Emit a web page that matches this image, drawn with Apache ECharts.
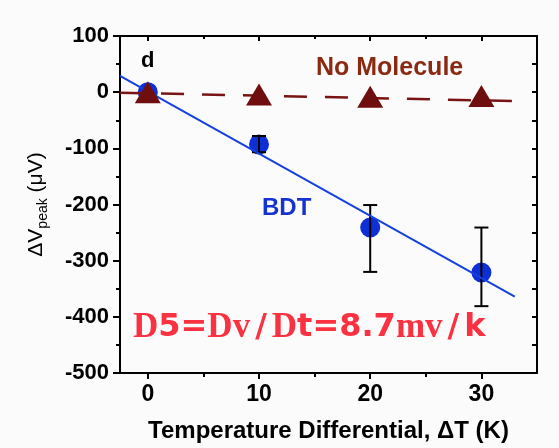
<!DOCTYPE html>
<html>
<head>
<meta charset="utf-8">
<script src="https://cdn.jsdelivr.net/npm/echarts@6/dist/echarts.min.js"></script>
<style>
html,body{margin:0;padding:0;background:#fbfbfb;}
#chart{width:559px;height:448px;}
</style>
</head>
<body>
<div id="chart"></div>
<script>
// ---- data ----
const deltaT = [0, 10, 20, 30];
const bdt = [0, -93, -241, -321];
const bdtErrLow = [null, -107, -320, -381];
const bdtErrHigh = [null, -78, -201, -241];
const noMolecule = [0, -4, -8, -7];
const bdtFitX = [-2.5, 33];
const bdtFitY = [29, -364];
const nmFitX = [-2.5, 33];
const nmFitY = [-1, -16];
const xMajorTicks = [0, 10, 20, 30];
const xMinorTicks = [5, 15, 25];

const SANS = 'Liberation Sans, Arial, sans-serif';
const chart = echarts.init(document.getElementById('chart'));

const black = '#000';
const baseX = {
  type: 'value', min: -2.5, max: 35,
  splitLine: { show: false },
  axisLine: { show: true, onZero: false, lineStyle: { color: black, width: 2 } }
};
const option = {
  backgroundColor: '#fbfbfb',
  animation: false,
  grid: { left: 120, right: 22, top: 36, bottom: 73 },
  xAxis: [
    Object.assign({}, baseX, {
      position: 'bottom',
      axisTick: { show: true, inside: false, length: 6, customValues: xMajorTicks, lineStyle: { color: black, width: 2 } },
      axisLabel: { show: true, customValues: xMajorTicks, margin: 10, color: black, fontSize: 23, fontWeight: 'bold', fontFamily: SANS },
      name: 'Temperature Differential, \u0394T (K)',
      nameLocation: 'middle', nameGap: 46,
      nameTextStyle: { color: black, fontSize: 24, fontWeight: 'bold', fontFamily: SANS }
    }),
    Object.assign({}, baseX, {
      position: 'bottom',
      axisLine: { show: false, onZero: false },
      axisTick: { show: true, inside: false, length: 4, customValues: xMinorTicks, lineStyle: { color: black, width: 2 } },
      axisLabel: { show: false }
    }),
    Object.assign({}, baseX, {
      position: 'top',
      axisTick: { show: true, inside: true, length: 5, customValues: xMajorTicks, lineStyle: { color: black, width: 2 } },
      axisLabel: { show: false }
    }),
    Object.assign({}, baseX, {
      position: 'top',
      axisLine: { show: false, onZero: false },
      axisTick: { show: true, inside: true, length: 3, customValues: xMinorTicks, lineStyle: { color: black, width: 2 } },
      axisLabel: { show: false }
    })
  ],
  yAxis: [
    {
      type: 'value', min: -500, max: 100, interval: 100, position: 'left',
      splitLine: { show: false },
      axisLine: { show: true, onZero: false, lineStyle: { color: black, width: 2 } },
      axisTick: { show: true, inside: false, length: 7, lineStyle: { color: black, width: 2 } },
      minorTick: { show: true, splitNumber: 2, length: 4, lineStyle: { color: black, width: 2 } },
      axisLabel: { margin: 11, color: black, fontSize: 22, fontWeight: 'bold', fontFamily: SANS },
      name: '{a|\u0394V}{b|peak}{a| (\u03bcV)}',
      nameLocation: 'middle', nameGap: 70,
      nameTextStyle: {
        color: black, fontFamily: SANS,
        rich: {
          a: { fontSize: 21, fontWeight: 'normal', fontFamily: SANS, color: black, lineHeight: 28, verticalAlign: 'middle' },
          b: { fontSize: 14, fontWeight: 'normal', fontFamily: SANS, color: black, lineHeight: 14, verticalAlign: 'bottom' }
        }
      }
    },
    {
      type: 'value', min: -500, max: 100, interval: 50, position: 'right',
      splitLine: { show: false },
      axisLine: { show: true, onZero: false, lineStyle: { color: black, width: 2 } },
      axisTick: { show: true, inside: true, length: 5, lineStyle: { color: black, width: 2 } },
      axisLabel: { show: false }
    }
  ],
  series: [
    {
      name: 'BDT', type: 'scatter', xAxisIndex: 0, yAxisIndex: 0,
      symbol: 'circle', symbolSize: 20, z: 2,
      itemStyle: { color: '#0f2fd6', opacity: 1 },
      data: deltaT.map((t, i) => [t, bdt[i]])
    },
    {
      name: 'BDT error', type: 'custom', xAxisIndex: 0, yAxisIndex: 0, z: 3,
      data: deltaT.map((t, i) => [t, bdtErrLow[i], bdtErrHigh[i]]).filter(d => d[1] !== null),
      renderItem: function (params, api) {
        const lo = api.coord([api.value(0), api.value(1)]);
        const hi = api.coord([api.value(0), api.value(2)]);
        const hw = 7;
        const st = { stroke: '#000', lineWidth: 2 };
        return {
          type: 'group',
          children: [
            { type: 'line', shape: { x1: lo[0], y1: lo[1], x2: hi[0], y2: hi[1] }, style: st },
            { type: 'line', shape: { x1: lo[0] - hw, y1: lo[1], x2: lo[0] + hw, y2: lo[1] }, style: st },
            { type: 'line', shape: { x1: hi[0] - hw, y1: hi[1], x2: hi[0] + hw, y2: hi[1] }, style: st }
          ]
        };
      }
    },
    {
      name: 'BDT fit', type: 'line', xAxisIndex: 0, yAxisIndex: 0, z: 4,
      showSymbol: false, symbol: 'none',
      lineStyle: { color: '#1540e0', width: 2 },
      data: bdtFitX.map((x, i) => [x, bdtFitY[i]])
    },
    {
      name: 'No Molecule fit', type: 'line', xAxisIndex: 0, yAxisIndex: 0, z: 5,
      showSymbol: false, symbol: 'none',
      lineStyle: { color: '#7a1414', width: 2.5, type: [23, 18] },
      data: nmFitX.map((x, i) => [x, nmFitY[i]])
    },
    {
      name: 'No Molecule', type: 'scatter', xAxisIndex: 0, yAxisIndex: 0, z: 6,
      symbol: 'triangle', symbolSize: [26, 22],
      itemStyle: { color: '#6e0e0e', opacity: 1 },
      data: deltaT.map((t, i) => [t, noMolecule[i]])
    }
  ],
  graphic: [
    { type: 'text', left: 141, top: 50, z: 10,
      style: { text: 'd', fill: '#000', font: 'bold 22px ' + SANS } },
    { type: 'text', left: 316, top: 56, z: 10,
      style: { text: 'No Molecule', fill: '#8b2a12', font: 'bold 25px ' + SANS } },
    { type: 'text', left: 262, top: 196, z: 10,
      style: { text: 'BDT', fill: '#1533d0', font: 'bold 24px ' + SANS } },
    { type: 'text', left: 133, top: 310, z: 10,
      style: {
        text: '{s|D}{m|5=}{s|Dv}{k|/}{s|D}{m|t=8.7}{s|mv}{k|/}{m|k}',
        fill: '#f93141',
        rich: {
          s: { fontFamily: 'Liberation Serif, serif', fontWeight: 'bold', fontSize: 35, fill: '#f93141', lineHeight: 38 },
          m: { fontFamily: 'DejaVu Sans, sans-serif', fontWeight: 'bold', fontSize: 32, fill: '#f93141', lineHeight: 38 },
          k: { fontFamily: 'DejaVu Sans, sans-serif', fontWeight: 'bold', fontSize: 32, fill: '#f93141', lineHeight: 38, padding: [0, 5, 0, 5] }
        }
      } }
  ]
};
chart.setOption(option);
</script>
</body>
</html>
